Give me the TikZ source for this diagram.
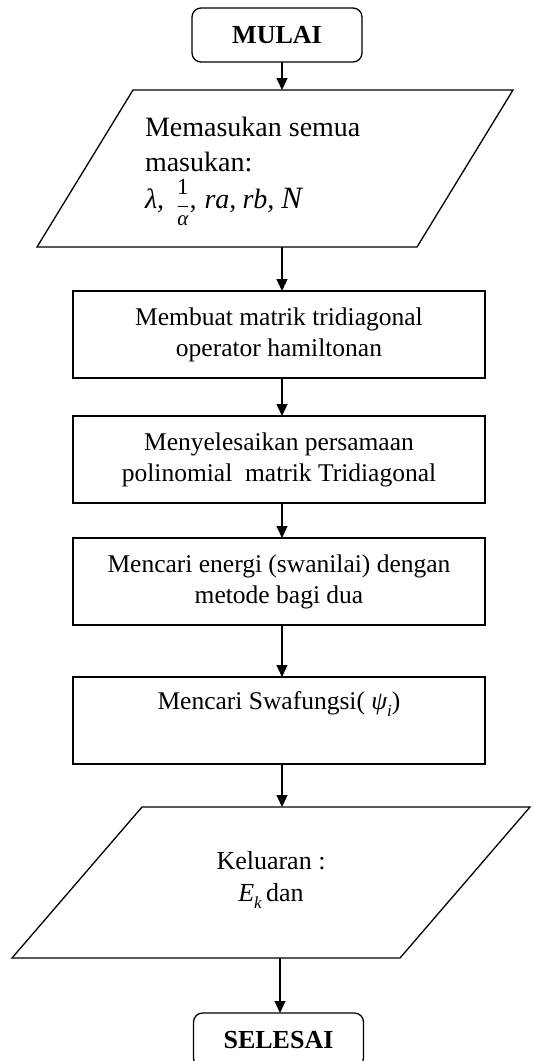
\documentclass[tikz,border=0pt]{standalone}
\usepackage{fontspec}
\setmainfont{Liberation Serif}
\usetikzlibrary{arrows.meta}
\newcommand{\tallfrac}[2]{\ooalign{\hfil\raisebox{14pt}{\fontsize{23}{23}\selectfont\upshape #1}\hfil\cr\hfil\rule[1pt]{10pt}{1.2pt}\hfil\cr\hfil\raisebox{-17pt}{\fontsize{21}{21}\selectfont\itshape #2}\hfil\cr}}
\begin{document}
\begin{tikzpicture}[x=1pt,y=-1pt,
  every node/.style={inner sep=0pt, outer sep=0pt},
  term/.style={draw, line width=1.3pt, rounded corners=9pt, minimum width=170pt, minimum height=54pt, font=\fontsize{26}{31}\selectfont\bfseries},
  proc/.style={draw, line width=1.3pt, minimum width=412pt, minimum height=87pt, align=center, font=\fontsize{25.5}{31}\selectfont},
  ioframe/.style={minimum width=#1},
  shapeline/.style={line width=1.3pt},
  arr/.style={-{Triangle[length=12pt,width=11pt]}, line width=1.3pt},
  txt/.style={anchor=base west, font=\fontsize{28}{35}\selectfont}
]
\useasboundingbox (0,0) rectangle (533,1061);
\clip (0,0) rectangle (533,1061);

\node[term] (start) at (277,35) {MULAI};

\node[ioframe=476pt, minimum height=157pt] (in) at (275,168.5) {};
\draw[shapeline] ([xshift=96pt]in.north west) -- (in.north east) -- ([xshift=-96pt]in.south east) -- (in.south west) -- cycle;
\node[txt] (l1) at (145,136) {Memasukan semua};
\node[txt] (l2) at (145,171) {masukan:};
\node[txt] (l3) at (145,208) {\itshape λ,\hspace{13pt}\tallfrac{1}{α}\hspace{1pt},\hspace{8pt}ra,\hspace{6pt}rb,\hspace{7pt}{\fontsize{31}{31}\selectfont N}};

\node[proc] (p1) at (279,334.5) {Membuat matrik tridiagonal\\operator hamiltonan};
\node[proc] (p2) at (279,459.5) {Menyelesaikan persamaan\\polinomial\ \ matrik Tridiagonal};
\node[proc] (p3) at (279,581.5) {Mencari energi (swanilai) dengan\\metode bagi dua};
\node[proc] (p4) at (279,720.5) {Mencari Swafungsi( {\itshape ψ}\raisebox{-0.3em}{\fontsize{17}{17}\selectfont\itshape i})\\\strut};

\node[ioframe=518pt, minimum height=151pt] (out) at (271,882.5) {};
\draw[shapeline] ([xshift=130pt]out.north west) -- (out.north east) -- ([xshift=-130pt]out.south east) -- (out.south west) -- cycle;
\node[align=center, font=\fontsize{26}{32}\selectfont] (outtext) at (271,880) {Keluaran :\\{\itshape E}\raisebox{-0.3em}{\fontsize{17}{17}\selectfont\itshape k}\,dan};

\node[term] (stop) at (278.5,1040) {SELESAI};

\coordinate (ax) at (282,0);
\coordinate (bx) at (280,0);
\draw[arr] (start.south -| ax) -- (in.north -| ax);
\draw[arr] (in.south -| ax) -- (p1.north -| ax);
\draw[arr] (p1.south -| ax) -- (p2.north -| ax);
\draw[arr] (p2.south -| ax) -- (p3.north -| ax);
\draw[arr] (p3.south -| ax) -- (p4.north -| ax);
\draw[arr] (p4.south -| ax) -- (out.north -| ax);
\draw[arr] (out.south -| bx) -- (stop.north -| bx);
\end{tikzpicture}
\end{document}
